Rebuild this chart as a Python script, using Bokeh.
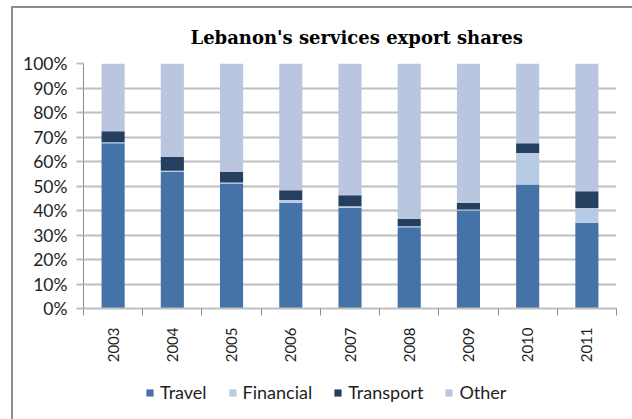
import math
from bokeh.plotting import figure
from bokeh.layouts import column
from bokeh.models import (ColumnDataSource, Range1d, FixedTicker, Legend, LegendItem, Title)
from bokeh.embed import file_html
from bokeh.resources import INLINE

years = ["2003", "2004", "2005", "2006", "2007", "2008", "2009", "2010", "2011"]
travel = [67.5, 55.8, 51.0, 43.2, 41.1, 33.2, 40.0, 50.6, 35.0]
financial = [0.4, 0.4, 0.4, 1.1, 0.6, 0.4, 0.4, 12.9, 6.0]
transport = [4.4, 5.7, 4.3, 4.0, 4.5, 3.0, 2.8, 3.9, 6.9]
other = [27.7, 38.1, 44.3, 51.7, 53.8, 63.4, 56.8, 32.6, 52.1]
series = ["Travel", "Financial", "Transport", "Other"]
colors = ["#4572A7", "#B7CCE4", "#243F60", "#BAC6DF"]
y_ticks = [0, 10, 20, 30, 40, 50, 60, 70, 80, 90, 100]

x_pos = [i + 0.5 for i in range(len(years))]
bounds = [float(i) for i in range(len(years) + 1)]

source = ColumnDataSource(dict(x=x_pos, Travel=travel, Financial=financial,
                               Transport=transport, Other=other))

FONT = "Lato"
TXT = "#1E1E1E"

p = figure(width=619, height=370, output_backend="svg", toolbar_location=None,
           x_range=Range1d(0, len(years)), y_range=Range1d(0, 100),
           min_border_left=70, min_border_right=16, min_border_top=52,
           min_border_bottom=70)
p.outline_line_color = None
p.background_fill_color = "white"
p.border_fill_color = "white"

renderers = p.vbar_stack(series, x="x", width=0.39, color=colors, line_color=None,
                         source=source)

t = Title(text="Lebanon's services export shares", align="left",
          text_font="DejaVu Serif", text_font_size="18px", text_font_style="bold",
          text_color="#000000", offset=107, standoff=32)
p.add_layout(t, "above")

p.yaxis.ticker = FixedTicker(ticks=y_ticks)
p.yaxis.major_label_overrides = {v: f"{v}%" for v in y_ticks}
p.yaxis.axis_line_color = "#8C8C8C"
p.yaxis.major_tick_line_color = "#BFBFBF"
p.yaxis.major_tick_line_width = 2
p.yaxis.major_tick_out = 7
p.yaxis.major_tick_in = 0
p.yaxis.minor_tick_line_color = None
p.yaxis.major_label_text_font = FONT
p.yaxis.major_label_text_font_size = "17.5px"
p.yaxis.major_label_text_color = TXT
p.yaxis.major_label_standoff = 9

p.xaxis.ticker = FixedTicker(ticks=x_pos, minor_ticks=bounds)
p.xaxis.major_label_overrides = {x: y for x, y in zip(x_pos, years)}
p.xaxis.major_label_orientation = math.pi / 2
p.xaxis.axis_line_color = "#BFBFBF"
p.xaxis.axis_line_width = 2
p.xaxis.major_tick_line_color = None
p.xaxis.minor_tick_line_color = "#8C8C8C"
p.xaxis.minor_tick_out = 7
p.xaxis.minor_tick_in = 0
p.xaxis.major_label_text_font = FONT
p.xaxis.major_label_text_font_size = "15px"
p.xaxis.major_label_text_color = TXT
p.xaxis.major_label_standoff = 12

p.xgrid.grid_line_color = None
p.ygrid.grid_line_color = "#BFBFBF"
p.ygrid.grid_line_width = 2

# legend in a strip below the chart (its bars lie outside its view)
lf = figure(width=619, height=41, output_backend="svg", toolbar_location=None,
            x_range=Range1d(100, 101), y_range=Range1d(100, 101),
            x_axis_location=None, y_axis_location=None,
            min_border=0, min_border_left=0, min_border_right=0,
            min_border_top=0, min_border_bottom=0)
lf.grid.visible = False
lf.outline_line_color = None
lf.border_fill_color = "white"
leg_rs = lf.vbar_stack(series, x="x", width=0.39, color=colors, line_color=None,
                       source=source)
legend = Legend(items=[LegendItem(label=s, renderers=[r]) for s, r in zip(series, leg_rs)],
                orientation="horizontal", location=(62, 16),
                glyph_width=9, glyph_height=9, label_standoff=6, spacing=21,
                label_text_font=FONT, label_text_font_size="18px",
                label_text_color=TXT, border_line_color=None,
                background_fill_color=None, padding=4, margin=0)
lf.add_layout(legend, "center")

layout = column(p, lf, spacing=0)
layout.styles = {"border-left": "2px solid #8C8C8C", "border-top": "2px solid #8C8C8C",
                 "margin-left": "11px", "margin-top": "6px"}

open("out.html", "w").write(file_html(layout, INLINE))
